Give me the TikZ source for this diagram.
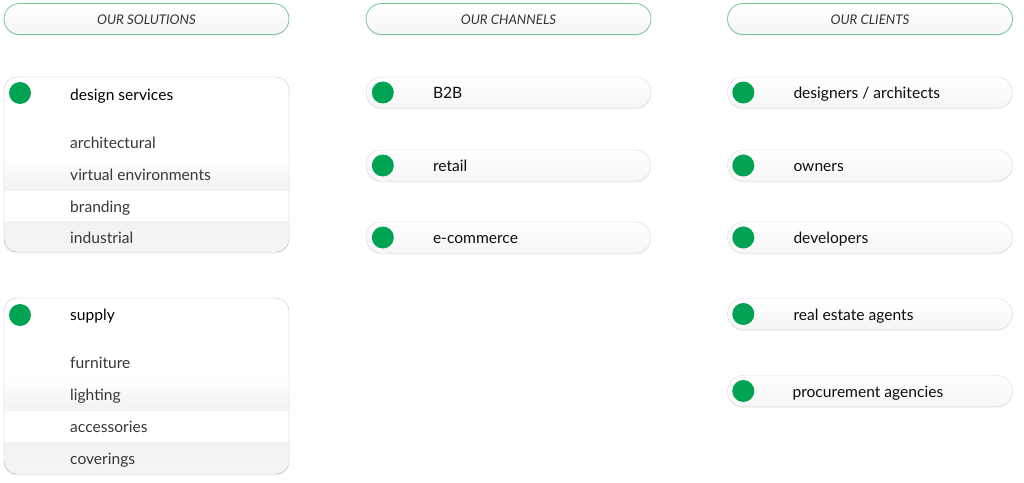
\documentclass[tikz,border=0pt]{standalone}
\usepackage{fontspec}
\setmainfont{Lato}
\usetikzlibrary{shadows,positioning}
\definecolor{dotgreen}{RGB}{0,163,82}
\definecolor{rimgreen}{RGB}{118,200,152}
\definecolor{rimgray}{RGB}{218,218,218}
\definecolor{band}{RGB}{242,242,242}
\definecolor{pillfoot}{RGB}{246,246,246}
\tikzset{
  pill/.style={rectangle, rounded corners=15.5pt, minimum width=285pt, minimum height=31pt, draw=rimgray, top color=white, bottom color=pillfoot, drop shadow={opacity=0.10, shadow xshift=0pt, shadow yshift=-1.5pt}},
  hdr/.style={pill, draw=rimgreen, line width=0.8pt, font=\itshape\fontsize{13.3}{15}\selectfont, text=black!80, text height=11.6pt, text depth=0pt},
  dot/.style={circle, fill=dotgreen, minimum size=22pt, inner sep=0pt},
  lbl/.style={anchor=west, inner sep=0pt, yshift=-3pt, font=\fontsize{15.6}{17}\selectfont, text=black!95, text height=1.6ex, text depth=.3ex},
  title/.style={lbl, text=black},
  item/.style={lbl, text=black!78},
  panel/.style={draw=rimgray, fill=white, rounded corners=13pt, drop shadow={opacity=0.10, shadow xshift=0pt, shadow yshift=-1.5pt}}
}
\begin{document}
\begin{tikzpicture}[x=1pt,y=-1pt]
  \useasboundingbox (0,0) rectangle (1024,482);
  % headers
  \node[hdr] (solutions) at (146.5,19) {OUR SOLUTIONS};
  \node[hdr] (channels) at (508.5,19) {OUR CHANNELS};
  \node[hdr] (clients) at (870,19) {OUR CLIENTS};

  % solutions: design services
  \path[panel] (4,77) rectangle (289,252);
  \begin{scope}
    \clip[rounded corners=13pt] (4,77) rectangle (289,252);
    \fill[top color=white, bottom color=band] (4,158) rectangle (289,190);
    \fill[top color=band, bottom color=band!80] (4,221) rectangle (289,252);
  \end{scope}
  \draw[rimgray, rounded corners=13pt] (4,77) rectangle (289,252);
  \node[dot] (designdot) at (20,93) {};
  \node[title] (design) at (70,94) {design services};
  \node[item] (arch) at (70,142) {architectural};
  \node[item] (virtual) at (70,174) {virtual environments};
  \node[item] (branding) at (70,206) {branding};
  \node[item] (industrial) at (70,237) {industrial};

  % solutions: supply
  \path[panel] (4,298) rectangle (289,474);
  \begin{scope}
    \clip[rounded corners=13pt] (4,298) rectangle (289,474);
    \fill[top color=white, bottom color=band] (4,378) rectangle (289,410);
    \fill[top color=band, bottom color=band!80] (4,442) rectangle (289,474);
  \end{scope}
  \draw[rimgray, rounded corners=13pt] (4,298) rectangle (289,474);
  \node[dot] (supplydot) at (20,315) {};
  \node[title] (supply) at (70,314) {supply};
  \node[item] (furniture) at (70,362) {furniture};
  \node[item] (lighting) at (70,394) {lighting};
  \node[item] (accessories) at (70,426) {accessories};
  \node[item] (coverings) at (70,458) {coverings};

  % channels
  \node[pill] (b2b) at (508.5,92.5) {};
  \node[dot] at ([xshift=17pt]b2b.west) {};
  \node[lbl] at ([xshift=67pt]b2b.west) {B2B};
  \node[pill] (retail) at (508.5,165.5) {};
  \node[dot] at ([xshift=17pt]retail.west) {};
  \node[lbl] at ([xshift=67pt]retail.west) {retail};
  \node[pill] (ecom) at (508.5,237.5) {};
  \node[dot] at ([xshift=17pt]ecom.west) {};
  \node[lbl] at ([xshift=67pt]ecom.west) {e-commerce};

  % clients
  \node[pill] (designers) at (870,92.5) {};
  \node[dot] at ([xshift=16pt]designers.west) {};
  \node[lbl] at ([xshift=66pt]designers.west) {designers / architects};
  \node[pill] (owners) at (870,165.5) {};
  \node[dot] at ([xshift=16pt]owners.west) {};
  \node[lbl] at ([xshift=66pt]owners.west) {owners};
  \node[pill] (developers) at (870,237.5) {};
  \node[dot] at ([xshift=16pt]developers.west) {};
  \node[lbl] at ([xshift=66pt]developers.west) {developers};
  \node[pill] (agents) at (870,314) {};
  \node[dot] at ([xshift=16pt]agents.west) {};
  \node[lbl] at ([xshift=66pt]agents.west) {real estate agents};
  \node[pill] (procure) at (870,391) {};
  \node[dot] at ([xshift=16pt]procure.west) {};
  \node[lbl] at ([xshift=65pt]procure.west) {procurement agencies};
\end{tikzpicture}
\end{document}
